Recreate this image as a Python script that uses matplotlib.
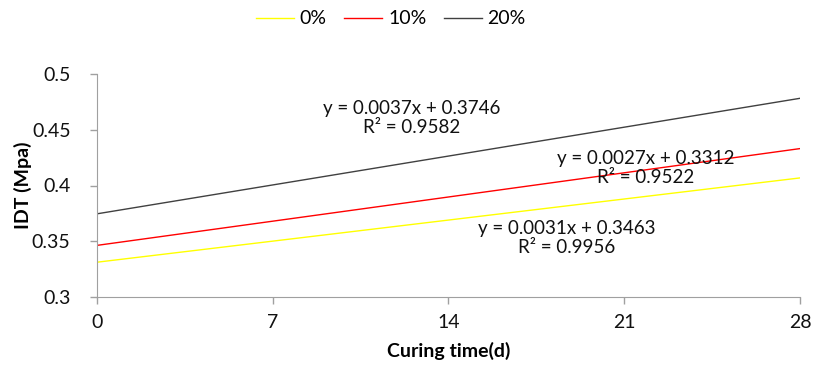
import numpy as np
import matplotlib
matplotlib.use("Agg")
import matplotlib.pyplot as plt

plt.rcParams['font.family'] = ['Lato', 'DejaVu Sans']

# curing time (days) and fitted trendlines
days = [0, 28]
labels = ['0%', '10%', '20%']
slopes = [0.0027, 0.0031, 0.0037]
intercepts = [0.3312, 0.3463, 0.3746]
colors = ['#ffff00', '#ff0000', '#404040']

# trendline annotation texts (as printed in the chart)
eq_texts = ['y = 0.0027x + 0.3312\nR² = 0.9522',
            'y = 0.0031x + 0.3463\nR² = 0.9956',
            'y = 0.0037x + 0.3746\nR² = 0.9582']
eq_pos = [(21.87, 0.4157), (18.72, 0.3529), (12.55, 0.4605)]

xticks = [0, 7, 14, 21, 28]
yticks = [0.3, 0.35, 0.4, 0.45, 0.5]

fig = plt.figure(figsize=(8.15, 3.79), dpi=100)
ax = fig.add_axes([97/815, 1 - 297/379, 703/815, 223/379])

x = np.array(days)
for lab, m, b, c in zip(labels, slopes, intercepts, colors):
    ax.plot(x, m * x + b, color=c, lw=1.0, label=lab)

for t, (tx, ty) in zip(eq_texts, eq_pos):
    ax.text(tx, ty, t, ha='center', va='center', fontsize=13.5,
            linespacing=1.2, color='#111111')

ax.set_xlim(0, 28)
ax.set_ylim(0.3, 0.5)
ax.set_xticks(xticks)
ax.set_yticks(yticks)
ax.set_yticklabels(['0.3', '0.35', '0.4', '0.45', '0.5'])
ax.tick_params(labelsize=14, color='#a0a0a0', length=5, width=1,
               labelcolor='#111111')
ax.tick_params(axis='y', pad=14)
ax.tick_params(axis='x', pad=7)

for s in ['top', 'right']:
    ax.spines[s].set_visible(False)
for s in ['left', 'bottom']:
    ax.spines[s].set_color('#a0a0a0')

ax.set_xlabel('Curing time(d)', fontsize=14, fontweight='bold', labelpad=8)
ax.set_ylabel('IDT (Mpa)', fontsize=14, fontweight='bold')
ax.yaxis.set_label_coords(-0.0925, 0.5)

ax.legend(loc='center', bbox_to_anchor=(0.418, 1 + 55/223), ncol=3,
          frameon=False, fontsize=14, handlelength=1.95, columnspacing=0.9,
          handletextpad=0.3)

fig.savefig('out.png', dpi=100)
